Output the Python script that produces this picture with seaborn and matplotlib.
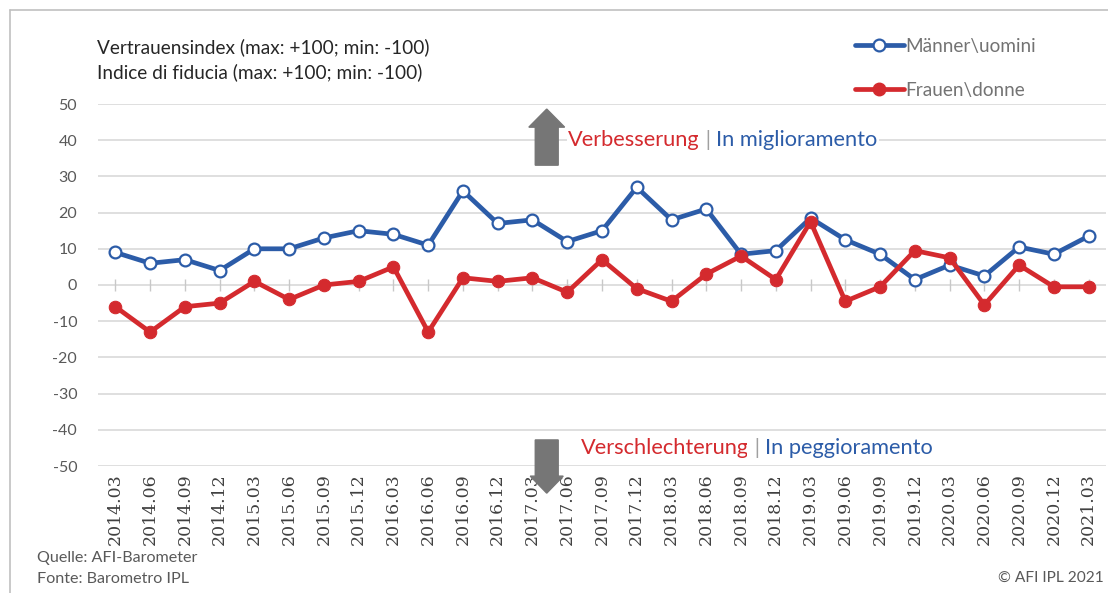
import matplotlib.pyplot as plt
import matplotlib.lines as mlines
import numpy as np
import pandas as pd
import seaborn as sns

# DADOS
quartale = [
    '2014.03', '2014.06', '2014.09', '2014.12',
    '2015.03', '2015.06', '2015.09', '2015.12',
    '2016.03', '2016.06', '2016.09', '2016.12',
    '2017.03', '2017.06', '2017.09', '2017.12',
    '2018.03', '2018.06', '2018.09', '2018.12',
    '2019.03', '2019.06', '2019.09', '2019.12',
    '2020.03', '2020.06', '2020.09', '2020.12',
    '2021.03',
]
maenner = [9, 6, 7, 4, 10, 10, 13, 15, 14, 11, 26, 17, 18, 12, 15, 27,
           18, 21, 8.5, 9.5, 18.5, 12.5, 8.5, 1.5, 5.5, 2.5, 10.5, 8.5, 13.5]
frauen = [-6, -13, -6, -5, 1, -4, 0, 1, 5, -13, 2, 1, 2, -2, 7, -1,
          -4.5, 3, 8, 1.5, 17.5, -4.5, -0.5, 9.5, 7.5, -5.5, 5.5, -0.5, -0.5]
y_ticks = list(range(-50, 51, 10))

BLAU = '#2c5ca8'
ROT = '#d42a2e'
GRAU = '#595959'

df = pd.DataFrame({'x': np.arange(len(quartale)), 'quartal': quartale,
                   'maenner': maenner, 'frauen': frauen})

sns.set_style('white')
plt.rcParams['font.family'] = ['Lato', 'DejaVu Sans']
plt.rcParams['axes.unicode_minus'] = False

fig = plt.figure(figsize=(11.08, 5.93), dpi=100)
ax = fig.add_axes([98 / 1108, 1 - 466 / 593, 1008 / 1108, 362 / 593])

sns.lineplot(data=df, x='x', y='maenner', ax=ax, color=BLAU, lw=3.4,
             marker='o', markersize=8.5, markerfacecolor='white',
             markeredgecolor=BLAU, markeredgewidth=1.6, zorder=4, clip_on=False)
sns.lineplot(data=df, x='x', y='frauen', ax=ax, color=ROT, lw=3.4,
             marker='o', markersize=9, markerfacecolor=ROT,
             markeredgecolor=ROT, zorder=5, clip_on=False)

# kleine Striche an der Nulllinie
ax.plot(df['x'], np.zeros(len(df)), '|', color='#c8c8c8', ms=8, mew=1, zorder=1)

ax.set_xlim(-0.5, len(quartale) - 0.5)
ax.set_ylim(-50, 50)
ax.set_yticks(y_ticks)
ax.set_xticks(df['x'])
ax.set_xticklabels(quartale, rotation=90, family='DejaVu Serif',
                   fontsize=12.5, color='#404040')
ax.tick_params(axis='y', length=0, pad=15, labelsize=11.5, labelcolor=GRAU)
ax.tick_params(axis='x', length=0, pad=5)
ax.set_xlabel('')
ax.set_ylabel('')
for s in ax.spines.values():
    s.set_visible(False)
ax.grid(axis='y', color='#d9d9d9', lw=1.2, zorder=0)
ax.grid(axis='x', visible=False)
ax.set_axisbelow(True)

# Pfeile
ax.arrow(12.41, 33.1, 0, 10.5, width=0.66, head_width=1.03, head_length=5,
         length_includes_head=False, color='#767676', zorder=6, clip_on=False)
ax.arrow(12.41, -42.8, 0, -10.0, width=0.66, head_width=0.95, head_length=4.7,
         length_includes_head=False, color='#767676', zorder=6, clip_on=False)

# Beschriftungen, mehrfarbig
def bunt(x, y, teile, groesse=15.7):
    box = dict(facecolor='white', edgecolor='none', pad=1)
    t = ax.text(x, y, teile[0][0], color=teile[0][1], fontsize=groesse,
                va='center', ha='left', bbox=box, zorder=3)
    for text, farbe in teile[1:]:
        t = ax.annotate(text, xy=(1, 0), xycoords=t, va='bottom', ha='left',
                        color=farbe, fontsize=groesse, bbox=box, zorder=3)
    return t

bunt(13.02, 40, [('Verbesserung', ROT), (' | ', '#a0a0a0'),
                 ('In miglioramento', BLAU)])
bunt(13.38, -45, [('Verschlechterung', ROT), (' | ', '#a0a0a0'),
                  ('In peggioramento', BLAU)])

# Titel
fig.text(97 / 1108, 1 - 47 / 593, 'Vertrauensindex (max: +100; min: -100)',
         fontsize=13.7, color='#262626', va='center')
fig.text(97 / 1108, 1 - 72 / 593, 'Indice di fiducia (max: +100; min: -100)',
         fontsize=13.7, color='#262626', va='center')

# Legende
h1 = mlines.Line2D([], [], color=BLAU, lw=3.4, marker='o', ms=8.5,
                   mfc='white', mec=BLAU, mew=1.6)
h2 = mlines.Line2D([], [], color=ROT, lw=3.4, marker='o', ms=9, mfc=ROT, mec=ROT)
fig.legend([h1, h2], ['Männer\\uomini', 'Frauen\\donne'],
           loc='upper left', bbox_to_anchor=(838 / 1108, 1 - 21 / 593),
           frameon=False, fontsize=13.7, handlelength=2.55, handletextpad=0.1,
           labelspacing=1.4, labelcolor='#737373')

# Quelle
fig.text(37 / 1108, 1 - 558 / 593, 'Quelle: AFI-Barometer', fontsize=11.6,
         color=GRAU, va='center')
fig.text(37 / 1108, 1 - 579 / 593, 'Fonte: Barometro IPL', fontsize=11.6,
         color=GRAU, va='center')
fig.text(1104 / 1108, 1 - 578 / 593, '© AFI IPL 2021', fontsize=11.2,
         color=GRAU, va='center', ha='right')

# Rahmen
fig.add_artist(mlines.Line2D([10 / 1108, 1], [1 - 10 / 593, 1 - 10 / 593],
                             color='#c0c0c0', lw=1.2))
fig.add_artist(mlines.Line2D([10 / 1108, 10 / 1108], [1 - 10 / 593, 0],
                             color='#c0c0c0', lw=1.2))

fig.savefig('out.png', dpi=100)
